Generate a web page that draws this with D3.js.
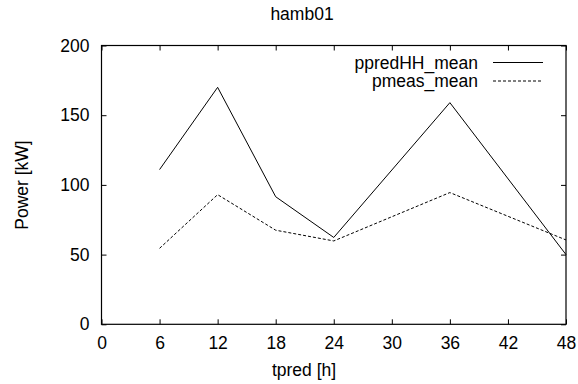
<!DOCTYPE html>
<html><head><meta charset="utf-8">
<script src="https://cdn.jsdelivr.net/npm/d3@7"></script>
<style>body{margin:0;background:#fff}svg{display:block}text{font-family:"Liberation Sans",Arial,sans-serif;fill:#000}</style>
</head><body><svg id="c" width="578" height="384"></svg>
<script>
const tpred = [6, 12, 18, 24, 36, 48];
const ppredHH_mean = [111, 170, 91.5, 62.3, 159, 50];
const pmeas_mean = [54.5, 93, 67.5, 59.8, 94.5, 60.5];
const xTicks = [0, 6, 12, 18, 24, 30, 36, 42, 48];
const yTicks = [0, 50, 100, 150, 200];
const title = "hamb01", xLabel = "tpred [h]", yLabel = "Power [kW]";
const seriesNames = ["ppredHH_mean", "pmeas_mean"];

const svg = d3.select("#c");
const L = 101.5, R = 566, T = 45.5, B = 324.3;
const x = d3.scaleLinear().domain([0, 48]).range([L, R]);
const y = d3.scaleLinear().domain([0, 200]).range([B, T]);
const fs = 17.5;

// axes
const gBottom = svg.append("g").attr("transform", `translate(0,${B})`)
  .call(d3.axisBottom(x).tickValues(xTicks).tickSize(-5).tickPadding(19));
const gTop = svg.append("g").attr("transform", `translate(0,${T})`)
  .call(d3.axisTop(x).tickValues(xTicks).tickSize(-5).tickFormat(""));
const gLeft = svg.append("g").attr("transform", `translate(${L},0)`)
  .call(d3.axisLeft(y).tickValues(yTicks).tickSize(-5).tickPadding(12));
const gRight = svg.append("g").attr("transform", `translate(${R},0)`)
  .call(d3.axisRight(y).tickValues(yTicks).tickSize(-5).tickFormat(""));
[gBottom, gTop, gLeft, gRight].forEach(g => {
  g.select(".domain").remove();
  g.selectAll("line").attr("stroke", "#000");
  g.selectAll("text").style("font-size", fs + "px").attr("font-family", null);
});
gBottom.selectAll("text").attr("dy", "0.35em");
svg.append("rect").attr("x", L).attr("y", T).attr("width", R - L).attr("height", B - T)
  .attr("fill", "none").attr("stroke", "#000").attr("stroke-width", 1.2);

const line = d3.line().x(d => x(d[0])).y(d => y(d[1]));
const s1 = tpred.map((t, i) => [t, ppredHH_mean[i]]);
const s2 = tpred.map((t, i) => [t, pmeas_mean[i]]);
svg.append("path").attr("d", line(s1)).attr("fill", "none").attr("stroke", "#000").attr("stroke-width", 1);
svg.append("path").attr("d", line(s2)).attr("fill", "none").attr("stroke", "#000").attr("stroke-width", 1).attr("stroke-dasharray", "3,2");

// legend
const legY = [62.5, 81];
seriesNames.forEach((n, i) => {
  svg.append("text").attr("x", 478).attr("y", legY[i]).attr("dy", "0.35em")
    .attr("text-anchor", "end").style("font-size", fs + "px").text(n);
  svg.append("line").attr("x1", 493).attr("x2", 543).attr("y1", legY[i]).attr("y2", legY[i])
    .attr("stroke", "#000").attr("stroke-width", 1).attr("stroke-dasharray", i ? "3,2" : null);
});

svg.append("text").attr("x", 302).attr("y", 14).attr("dy", "0.35em").attr("text-anchor", "middle")
  .style("font-size", fs + "px").text(title);
svg.append("text").attr("x", 304).attr("y", 370).attr("dy", "0.35em").attr("text-anchor", "middle")
  .style("font-size", fs + "px").text(xLabel);
svg.append("text").attr("transform", "translate(22,185) rotate(-90)").attr("dy", "0.35em")
  .attr("text-anchor", "middle").style("font-size", fs + "px").text(yLabel);
</script></body></html>
